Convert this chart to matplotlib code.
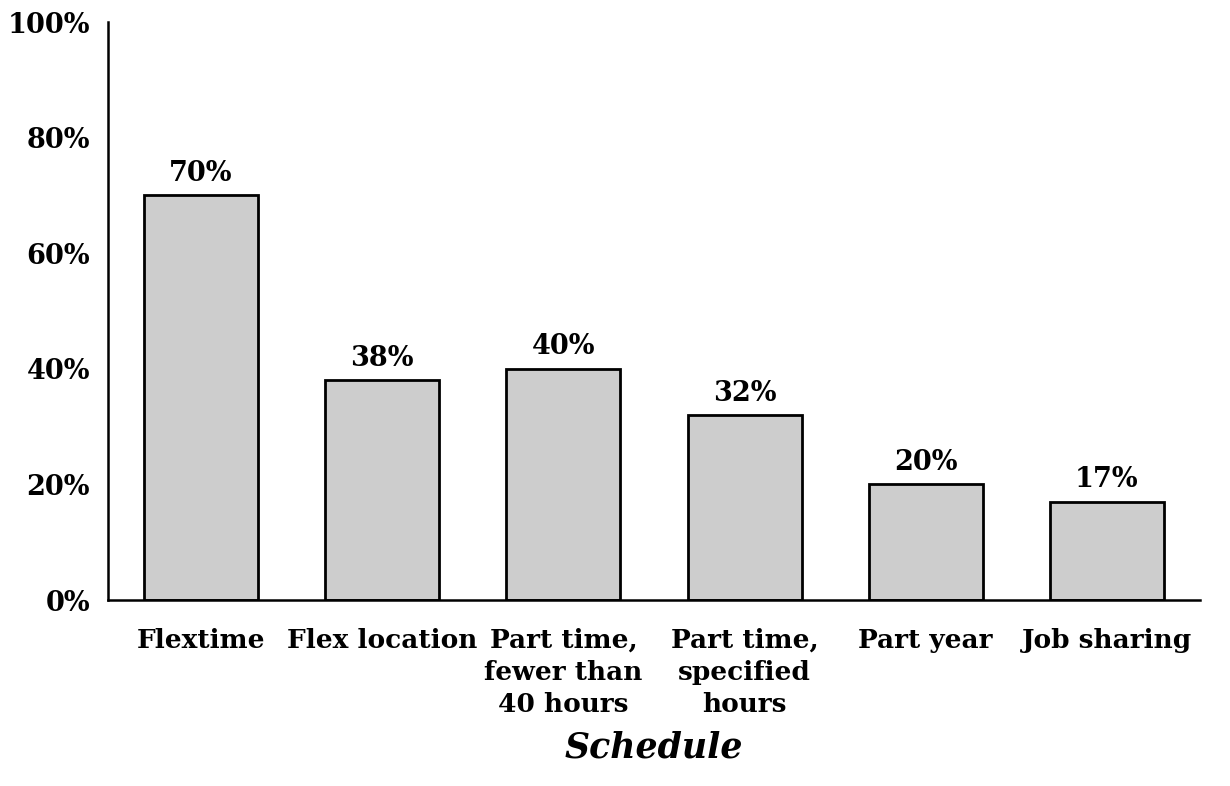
import matplotlib.pyplot as plt
import numpy as np

categories = ['Flextime', 'Flex location', 'Part time,\nfewer than\n40 hours',
              'Part time,\nspecified\nhours', 'Part year', 'Job sharing']
values = [70, 38, 40, 32, 20, 17]
yticks = [0, 20, 40, 60, 80, 100]

plt.rcParams['font.family'] = ['DejaVu Serif']
plt.rcParams['font.weight'] = 'bold'

fig = plt.figure(figsize=(12.3, 7.86), dpi=100)
ax = fig.add_axes([0.0878, 0.2366, 0.8878, 0.7354])

x = np.arange(len(categories))
bars = ax.bar(x, values, width=0.63, color='#cdcdcd', edgecolor='black', linewidth=2)
for b, v in zip(bars, values):
    ax.annotate(f'{v}%', (b.get_x() + b.get_width() / 2, v), xytext=(0, 6),
                textcoords='offset points', ha='center', va='bottom',
                fontsize=19.5, fontweight='bold')

ax.set_xlim(-0.514, 5.514)
ax.set_ylim(0, 100)
ax.set_yticks(yticks)
ax.set_yticklabels([f'{t}%' for t in yticks], fontsize=19.5, fontweight='bold')
ax.set_xticks(x)
ax.set_xticklabels(categories, fontsize=19, fontweight='bold', linespacing=1.35)
ax.tick_params(axis='both', length=0)
ax.tick_params(axis='x', pad=20)
ax.tick_params(axis='y', pad=13)
for s in ['top', 'right']:
    ax.spines[s].set_visible(False)
for s in ['left', 'bottom']:
    ax.spines[s].set_linewidth(1.8)

ax.set_xlabel('Schedule', fontsize=25, fontweight='bold', fontstyle='italic', labelpad=10)

fig.savefig('out.png', dpi=100)
